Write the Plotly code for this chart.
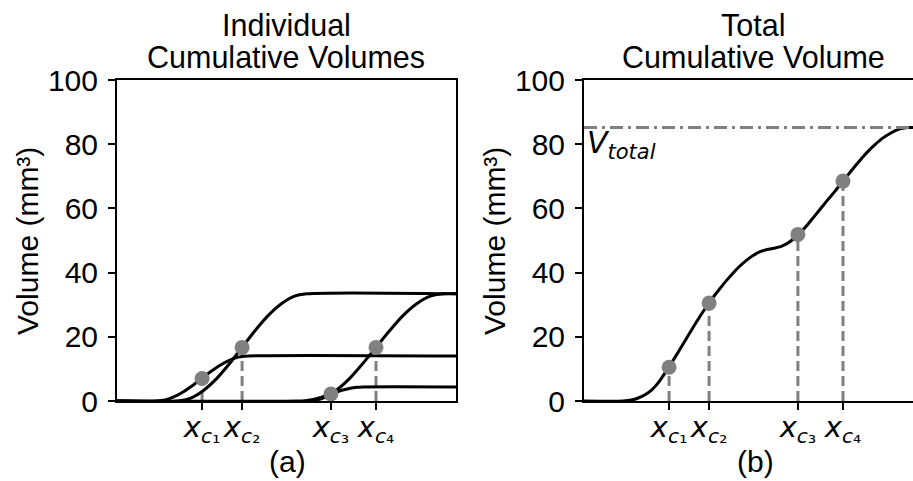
import plotly.graph_objects as go

# ---------------- data ----------------
c1_x = [0, 11.5, 14.2, 16.9, 19.6, 22.3, 25.0, 27.7, 30.4, 33.1, 35.8, 38.5, 100]
c1_y = [0, 0, 0.34, 1.34, 2.88, 4.83, 7.0, 9.17, 11.12, 12.67, 13.66, 14.0, 14.0]

c2_x = [0, 17.8, 21.6, 25.4, 29.3, 33.1, 36.9, 40.7, 44.5, 48.4, 52.2, 56.0, 100]
c2_y = [0, 0, 0.82, 3.19, 6.88, 11.52, 16.7, 21.88, 26.52, 30.21, 32.58, 33.4, 33.4]

c3_x = [0, 53.6, 55.5, 57.4, 59.3, 61.2, 63.1, 65.0, 66.9, 68.8, 70.7, 72.6, 100]
c3_y = [0, 0, 0.11, 0.42, 0.91, 1.52, 2.2, 2.88, 3.49, 3.98, 4.29, 4.4, 4.4]

c4_x = [0, 56.6, 60.6, 64.5, 68.5, 72.4, 76.4, 80.4, 84.3, 88.3, 92.2, 96.2, 100]
c4_y = [0, 0, 0.82, 3.19, 6.88, 11.52, 16.7, 21.88, 26.52, 30.21, 32.58, 33.4, 33.4]

total_x = [0, 11.5, 14, 16, 18, 20, 22, 24, 26, 28, 30, 32, 34, 36, 38, 40, 42, 44,
           46, 48, 50, 52, 54, 56, 58, 60, 62, 64, 66, 68, 70, 72, 74, 76, 78, 80,
           82, 84, 86, 88, 90, 92, 94, 96, 97.05]
total_y = [0, 0, 0.29, 0.94, 1.95, 3.5, 5.8, 8.9, 12.2, 15.6, 19.1, 22.6, 26.0, 29.2,
           32.2, 34.9, 37.5, 39.9, 42.05, 43.9, 45.4, 46.5, 47.2, 47.6, 48.1, 49.1,
           50.7, 52.7, 55.0, 57.6, 60.2, 62.8, 65.3, 68.0, 70.6, 73.2, 75.7, 78.0,
           80.0, 81.8, 83.2, 84.3, 84.95, 85.2, 85.2]

xc_vals = [25.1, 36.9, 63.1, 76.4]
xc_subs = ["₁", "₂", "₃", "₄"]
left_dot_y = [7.0, 16.7, 2.2, 16.7]
right_dot_y = [10.5, 30.5, 51.9, 68.5]
v_total = 85.2

y_ticks = [0, 20, 40, 60, 80, 100]

# ---------------- figure ----------------
GRAY = "#808080"
TXT = "Liberation Sans, Arial, sans-serif"
MATH = "DejaVu Sans, sans-serif"

xc_labels = ["<i>x</i><sub><i>c</i>%s</sub>" % s for s in xc_subs]

fig = go.Figure()

# dashed drop lines
for xv, yv in zip(xc_vals, left_dot_y):
    fig.add_trace(go.Scatter(x=[xv, xv], y=[0, yv], mode="lines",
                             line=dict(color=GRAY, width=3, dash="10px,5px"),
                             xaxis="x", yaxis="y", showlegend=False, hoverinfo="skip"))
for xv, yv in zip(xc_vals, right_dot_y):
    fig.add_trace(go.Scatter(x=[xv, xv], y=[0, yv], mode="lines",
                             line=dict(color=GRAY, width=3, dash="10px,5px"),
                             xaxis="x2", yaxis="y2", showlegend=False, hoverinfo="skip"))

# individual curves
for cx, cy in [(c1_x, c1_y), (c2_x, c2_y), (c3_x, c3_y), (c4_x, c4_y)]:
    fig.add_trace(go.Scatter(x=cx, y=cy, mode="lines",
                             line=dict(color="black", width=3, shape="spline", smoothing=0.8),
                             xaxis="x", yaxis="y", showlegend=False))

# total curve
fig.add_trace(go.Scatter(x=total_x, y=total_y, mode="lines",
                         line=dict(color="black", width=3, shape="spline", smoothing=0.8),
                         xaxis="x2", yaxis="y2", showlegend=False))

# V_total line
fig.add_trace(go.Scatter(x=[0, 97.05], y=[v_total, v_total], mode="lines",
                         line=dict(color=GRAY, width=3, dash="13px,5px,3px,5px"),
                         xaxis="x2", yaxis="y2", showlegend=False))

# dots
fig.add_trace(go.Scatter(x=xc_vals, y=left_dot_y, mode="markers",
                         marker=dict(color=GRAY, size=15), cliponaxis=False,
                         xaxis="x", yaxis="y", showlegend=False))
fig.add_trace(go.Scatter(x=xc_vals, y=right_dot_y, mode="markers",
                         marker=dict(color=GRAY, size=15), cliponaxis=False,
                         xaxis="x2", yaxis="y2", showlegend=False))

ydom = [1 - 401 / 481, 1 - 80 / 481]
axis_common = dict(showgrid=False, zeroline=False, linecolor="black", linewidth=2,
                   ticks="outside", ticklen=7, tickwidth=2, tickcolor="black",
                   automargin=False)

fig.update_layout(
    width=913, height=481,
    margin=dict(l=0, r=0, t=0, b=0, autoexpand=False),
    paper_bgcolor="white", plot_bgcolor="white",
    showlegend=False,
    xaxis=dict(domain=[117 / 913, 456 / 913], range=[0, 100], mirror=True,
               tickvals=xc_vals, ticktext=xc_labels, tickangle=0, ticklabelstandoff=-8,
               tickfont=dict(family=MATH, size=29, color="black"), **axis_common),
    yaxis=dict(domain=ydom, range=[0, 100], mirror=True, tickvals=y_ticks,
               ticklabelstandoff=4,
               tickfont=dict(family=TXT, size=30, color="black"), **axis_common),
    xaxis2=dict(domain=[584 / 913, 1.0], range=[0, 97.05], mirror=True,
                tickvals=xc_vals, ticktext=xc_labels, anchor="y2", tickangle=0,
                ticklabelstandoff=-8,
                tickfont=dict(family=MATH, size=29, color="black"), **axis_common),
    yaxis2=dict(domain=ydom, range=[0, 100], mirror=False, tickvals=y_ticks, anchor="x2",
                ticklabelstandoff=4,
                tickfont=dict(family=TXT, size=30, color="black"), **axis_common),
)

ann = []
def px_x(p):
    return p / 913
def px_y(p):
    return 1 - p / 481

def txt(text, x, y, size=30, angle=0, family=TXT):
    ann.append(dict(text=text, x=px_x(x), y=px_y(y), textangle=angle,
                    xref="paper", yref="paper", showarrow=False,
                    xanchor="center", yanchor="middle",
                    font=dict(family=family, size=size, color="black")))

txt("Individual", 286, 25, 30.5)
txt("Cumulative Volumes", 286, 57, 30.5)
txt("Total", 753, 25, 30.5)
txt("Cumulative Volume", 753, 57, 30.5)
txt("Volume (mm³)", 27, 241, 30, -90)
txt("Volume (mm³)", 494, 241, 30, -90)
txt("(a)", 287, 461, 30)
txt("(b)", 755, 461, 30)
ann.append(dict(text="<i>V<sub>total</sub></i>", x=0.2, y=v_total + 1.4,
                xref="x2", yref="y2", showarrow=False, xanchor="left", yanchor="top",
                font=dict(family=MATH, size=30, color="black")))
fig.update_layout(annotations=ann)

fig.write_html("out.html", config={"displayModeBar": False},
               post_script="document.body.style.margin='0px';document.body.style.padding='0px';")
